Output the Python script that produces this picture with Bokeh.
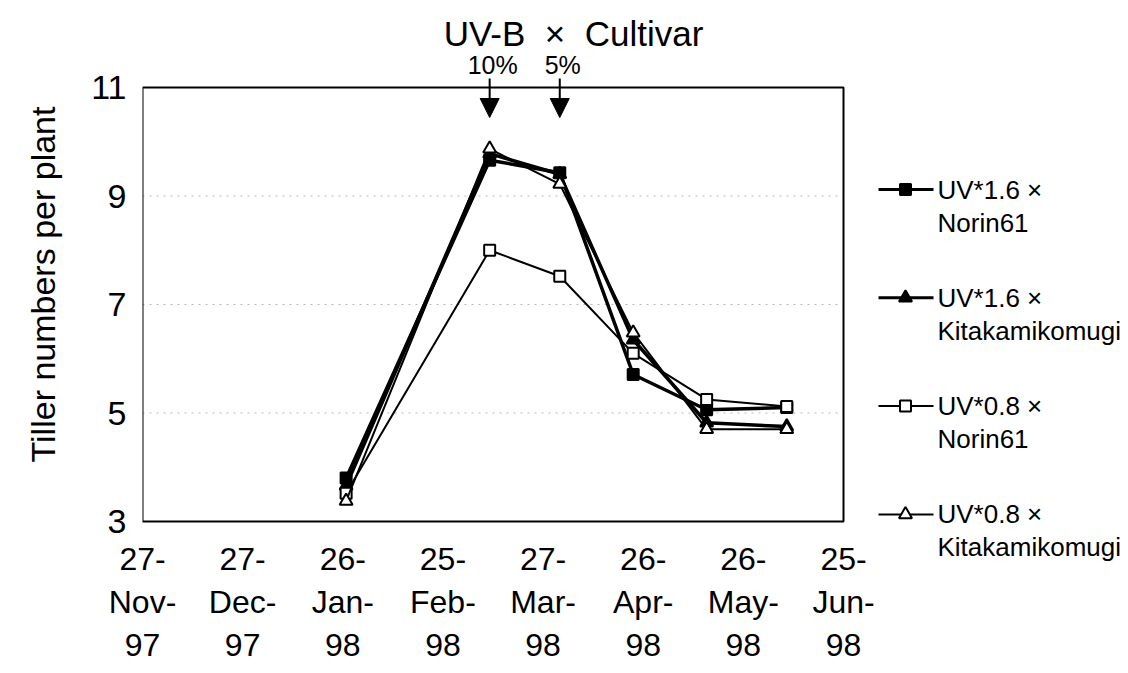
import pandas as pd
from bokeh.plotting import figure
from bokeh.models import Range1d, FixedTicker, Label, Arrow, NormalHead, ColumnDataSource
from bokeh.embed import file_html
from bokeh.resources import INLINE
from bokeh.core.properties import value

# ---------------- data ----------------
sample_dates = ["1998-01-27", "1998-03-11", "1998-04-01", "1998-04-23", "1998-05-15", "1998-06-08"]
uv16_norin61 = [3.80, 9.66, 9.43, 5.71, 5.06, 5.10]
uv16_kitakami = [3.66, 9.78, 9.40, 6.35, 4.82, 4.75]
uv08_norin61 = [3.52, 8.00, 7.52, 6.10, 5.25, 5.12]
uv08_kitakami = [3.38, 9.87, 9.22, 6.48, 4.70, 4.70]

series_line1 = ["UV*1.6 ×", "UV*1.6 ×", "UV*0.8 ×", "UV*0.8 ×"]
series_line2 = ["Norin61", "Kitakamikomugi", "Norin61", "Kitakamikomugi"]

tick_dates = ["1997-11-27", "1997-12-27", "1998-01-26", "1998-02-25",
              "1998-03-27", "1998-04-26", "1998-05-26", "1998-06-25"]
tick_labels = ["27-\nNov-\n97", "27-\nDec-\n97", "26-\nJan-\n98", "25-\nFeb-\n98",
               "27-\nMar-\n98", "26-\nApr-\n98", "26-\nMay-\n98", "25-\nJun-\n98"]
y_ticks = [3, 5, 7, 9, 11]

arrow_dates = ["1998-03-11", "1998-04-01"]
arrow_labels = ["10%", "5%"]

title_text = "UV-B\u00a0 ×\u00a0 Cultivar"
y_title = "Tiller numbers per plant"

# ---------------- layout (pixels) ----------------
W, H = 1124, 670
PL, PR, PT, PB = 142, 843, 87, 521      # plot box edges on the canvas
FB = 568                                 # bottom of drawing frame (room for legend)
FONT = "Liberation Sans"

def ms(d):
    return int(pd.Timestamp(d).value // 10**6)

t0, t1 = pd.Timestamp(tick_dates[0]), pd.Timestamp(tick_dates[-1])
x_end = t0 + (t1 - t0) * ((W - PL) / (PR - PL))
ppu = (PB - PT) / (y_ticks[-1] - y_ticks[0])
y_top = y_ticks[-1] + PT / ppu
y_bot = y_ticks[0] - (FB - PB) / ppu

p = figure(
    x_axis_type="datetime",
    x_range=Range1d(t0, x_end),
    y_range=Range1d(y_bot, y_top),
    frame_width=W - PL, frame_height=FB,
    min_border_left=PL, min_border_top=0, min_border_bottom=H - FB, min_border_right=0,
    output_backend="svg", toolbar_location=None,
    background_fill_color="white", border_fill_color="white",
)
p.extra_x_ranges = {"px": Range1d(PL, W)}
p.extra_y_ranges = {"px": Range1d(FB, 0)}
p.outline_line_color = None
p.grid.grid_line_color = None

# axes (lines drawn by the plot box below)
p.xaxis.ticker = FixedTicker(ticks=[ms(d) for d in tick_dates])
p.xaxis.major_label_overrides = {ms(d): lab for d, lab in zip(tick_dates, tick_labels)}
p.yaxis.ticker = FixedTicker(ticks=y_ticks)
p.yaxis.bounds = (y_ticks[0], y_ticks[-1])
for ax in (p.xaxis, p.yaxis):
    ax.axis_line_color = None
    ax.major_tick_line_color = None
    ax.minor_tick_line_color = None
    ax.major_label_text_color = "black"
    ax.major_label_text_font = FONT
p.xaxis.major_label_text_font_size = "32px"
p.xaxis.major_label_standoff = 13 - (FB - PB)
p.yaxis.major_label_text_font_size = "34px"
p.yaxis.major_label_standoff = 10
p.yaxis.axis_label = y_title
p.yaxis.axis_label_text_font = FONT
p.yaxis.axis_label_text_font_size = "34px"
p.yaxis.axis_label_text_font_style = "normal"
p.yaxis.axis_label_text_color = "black"
p.yaxis.axis_label_standoff = 26

# faint dotted gridlines and plot box
p.segment(x0=[t0] * 3, x1=[t1] * 3, y0=y_ticks[1:-1], y1=y_ticks[1:-1],
          line_color="#b8b8b8", line_width=1, line_dash="2 5")
p.quad(left=[t0], right=[t1], bottom=[y_ticks[0]], top=[y_ticks[-1]],
       fill_color=None, line_color="black", line_width=2)

# series
x = pd.to_datetime(sample_dates)
styles = [
    (uv16_norin61, "square", "black", 3.5, 11),
    (uv16_kitakami, "triangle", "black", 3.5, 13),
    (uv08_norin61, "square", "white", 2, 11),
    (uv08_kitakami, "triangle", "white", 2, 13),
]
for vals, marker, fill, lw, size in styles:
    src = ColumnDataSource(dict(x=x, y=vals))
    p.line("x", "y", source=src, line_color="black", line_width=lw)
    p.scatter("x", "y", source=src, marker=marker, size=size,
              fill_color=fill, line_color="black", line_width=2)

# arrows with percentages
ay0 = y_ticks[-1] + 9 / ppu
ay1 = y_ticks[-1] - 30 / ppu
asrc = ColumnDataSource(dict(x=pd.to_datetime(arrow_dates), y0=[ay0] * 2, y1=[ay1] * 2))
p.add_layout(Arrow(end=NormalHead(size=19, fill_color="black", line_color="black"),
                   source=asrc, x_start="x", y_start="y0", x_end="x", y_end="y1",
                   line_color="black", line_width=2))
for d, t in zip(arrow_dates, arrow_labels):
    p.add_layout(Label(x=ms(d), y=ay0, text=t, text_align="center",
                       text_baseline="bottom", x_offset=3,
                       text_font=FONT, text_font_size="25px", text_color="black"))

# title
p.add_layout(Label(x=573, y=33, x_range_name="px", y_range_name="px",
                   text=title_text, text_align="center", text_baseline="middle",
                   text_font=FONT, text_font_size="35px", text_color="black"))

# ---------------- legend ----------------
leg_top = 189
leg_gap = 108.3
for i, (vals, marker, fill, lw, size) in enumerate(styles):
    yy = leg_top + i * leg_gap
    p.line([878, 933], [yy, yy], x_range_name="px", y_range_name="px",
           line_color="black", line_width=min(lw, 3))
    p.scatter([905], [yy], x_range_name="px", y_range_name="px", marker=marker,
              size=size, fill_color=fill, line_color="black", line_width=2)
    p.text([937], [yy], x_range_name="px", y_range_name="px", text=[series_line1[i]],
           text_baseline="middle", text_font=value(FONT), text_font_size="26px",
           text_color="black")
    p.text([937], [yy + 33], x_range_name="px", y_range_name="px", text=[series_line2[i]],
           text_baseline="middle", text_font=value(FONT), text_font_size="26px",
           text_color="black")

open("out.html", "w").write(file_html(p, INLINE))
